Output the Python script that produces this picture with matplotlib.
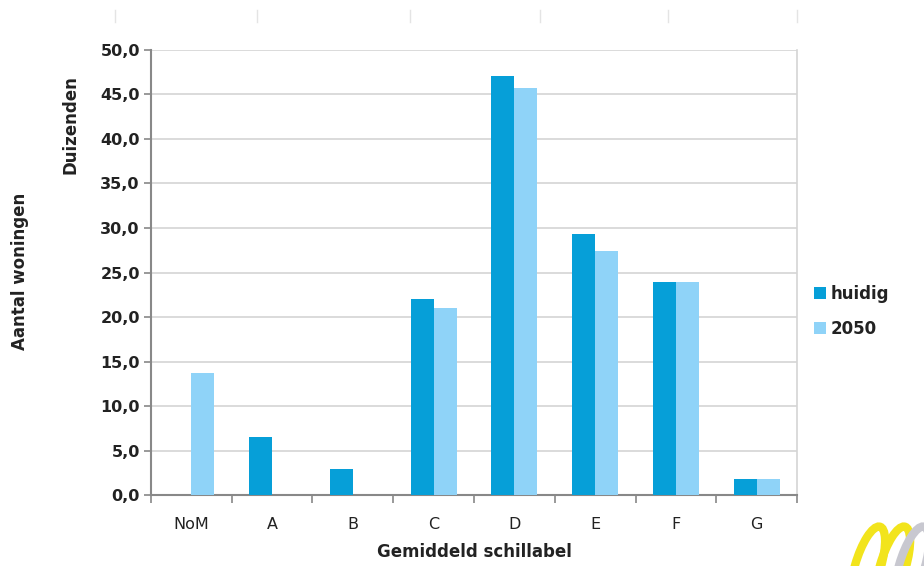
import matplotlib
matplotlib.use("Agg")
import matplotlib.pyplot as plt
import numpy as np
from matplotlib.patches import Ellipse

categories = ["NoM", "A", "B", "C", "D", "E", "F", "G"]
huidig = [0.0, 6.5, 2.9, 22.0, 47.1, 29.3, 23.9, 1.8]
y2050 = [13.7, 0.0, 0.0, 21.0, 45.7, 27.4, 23.9, 1.8]
yticks = [0, 5, 10, 15, 20, 25, 30, 35, 40, 45, 50]

c1 = "#069fd8"
c2 = "#8fd3f8"

plt.rcParams['font.family'] = ['DejaVu Sans']
fig = plt.figure(figsize=(9.24, 5.66), dpi=100)
ax = fig.add_axes([0.1634, 0.1254, 0.8626 - 0.1634, 0.9117 - 0.1254])

x = np.arange(len(categories))
w = 0.285
ax.bar(x - w / 2, huidig, w, color=c1, label="huidig", zorder=3)
ax.bar(x + w / 2, y2050, w, color=c2, label="2050", zorder=3)

ax.set_xlim(-0.5, len(categories) - 0.5)
ax.set_ylim(0, 50)
ax.set_yticks(yticks)
ax.set_yticklabels([f"{v:.1f}".replace(".", ",") for v in yticks],
                   fontsize=11.5, fontweight="bold", color="#222222")
ax.yaxis.grid(True, color="#d4d4d4", linewidth=1.2, zorder=0)
ax.set_axisbelow(True)

ax.set_xticks(x)
ax.set_xticklabels(categories, fontsize=11.5, color="#222222")
ax.tick_params(axis="x", length=0, pad=16)
ax.set_xticks(np.arange(-0.5, len(categories), 1), minor=True)
ax.tick_params(axis="x", which="minor", length=6, width=1.2, color="#888888", direction="out")
ax.tick_params(axis="y", length=5, width=1.2, color="#888888", direction="out", pad=3)

for s in ["left", "bottom"]:
    ax.spines[s].set_color("#888888")
    ax.spines[s].set_linewidth(1.5)
ax.spines["right"].set_color("#d4d4d4")
ax.spines["right"].set_linewidth(1.2)
ax.spines["top"].set_visible(False)

ax.set_xlabel("Gemiddeld schillabel", fontsize=12, fontweight="bold", color="#222222", labelpad=8)
fig.text(0.076, 0.78, "Duizenden", rotation=90, fontsize=12, fontweight="bold",
         ha="center", va="center", color="#222222")
fig.text(0.022, 0.52, "Aantal woningen", rotation=90, fontsize=12, fontweight="bold",
         ha="center", va="center", color="#222222")

leg = fig.legend(loc="center left", bbox_to_anchor=(0.865, 0.45), frameon=False,
                 fontsize=12, handlelength=0.7, handleheight=0.7, handletextpad=0.3,
                 labelspacing=1.0)
for t in leg.get_texts():
    t.set_fontweight("bold")
    t.set_color("#222222")

# faint marks at top
for xp in [115, 257, 410, 540, 668, 797]:
    fig.add_artist(plt.Line2D([xp / 924, xp / 924], [1 - 10 / 566, 1 - 22 / 566],
                              color="#e4e4e4", linewidth=1))

# logo rings (decoration)
for cx, col in [(868, "#f2e41c"), (893, "#f2e41c"), (912, "#c8c8d0")]:
    e = Ellipse((cx / 924, 1 - 566 / 566), 26 / 924, 80 / 566, angle=-10,
                fill=False, edgecolor=col, linewidth=6, transform=fig.transFigure)
    fig.add_artist(e)

fig.savefig("out.png", dpi=100)
